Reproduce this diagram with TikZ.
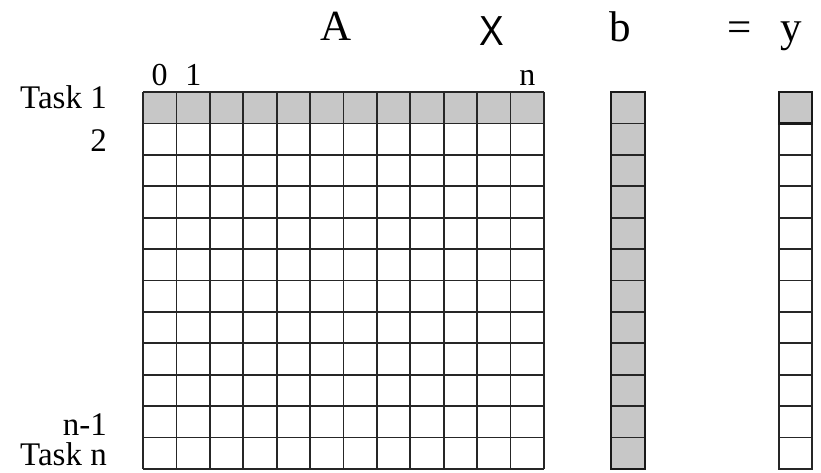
\documentclass[tikz,border=0pt]{standalone}
\usepackage{fontspec}
\setmainfont{Liberation Serif}
\newfontfamily\xsans{Liberation Sans}
\begin{document}
\begin{tikzpicture}[x=1pt,y=-1pt,
  gridline/.style={draw=black!85,line width=1.7pt},
  shaded/.style={fill=black!22},
  outer/.style={draw=black!90,line width=2.8pt},
  toplab/.style={anchor=base,inner sep=0pt,font=\fontsize{43}{47}\selectfont},
  sidelab/.style={anchor=base east,inner sep=0pt,font=\fontsize{33}{37}\selectfont},
  collab/.style={anchor=base,inner sep=0pt,font=\fontsize{32}{36}\selectfont}]
\useasboundingbox (0,0) rectangle (821,472);
\def\gx{143}\def\gX{544}\def\gy{92}\def\gY{469}
% matrix A
\coordinate (A-nw) at (\gx,\gy);
\coordinate (A-se) at (\gX,\gY);
\fill[shaded] (\gx,\gy) rectangle (\gX,{\gy+377/12});
\foreach \i in {0,...,12}{
  \draw[gridline] ({\gx+\i*401/12},\gy) -- ({\gx+\i*401/12},\gY);
  \draw[gridline] (\gx,{\gy+\i*377/12}) -- (\gX,{\gy+\i*377/12});
}
% vector b
\coordinate (b-nw) at (611,\gy);
\coordinate (b-se) at (645,\gY);
\fill[shaded] (b-nw) rectangle (b-se);
\foreach \i in {1,...,11}{
  \draw[gridline] (611,{\gy+\i*377/12}) -- (645,{\gy+\i*377/12});
}
\draw[outer] (b-nw) rectangle (b-se);
% vector y
\coordinate (y-nw) at (779,\gy);
\coordinate (y-se) at (812,\gY);
\foreach \i in {1,...,11}{
  \draw[gridline] (779,{\gy+\i*377/12}) -- (812,{\gy+\i*377/12});
}
\draw[gridline,line width=2pt] (y-nw) rectangle (y-se);
\fill[shaded] (779,\gy) rectangle (812,{\gy+377/12});
\draw[outer] (779,\gy) rectangle (812,{\gy+377/12});
% top labels
\node[toplab] (lA) at (336,40.7) {A};
\node[toplab,font=\xsans\fontsize{42}{46}\selectfont,xscale=0.88] (lX) at (491.7,45) {X};
\node[toplab] (lb) at (620,41) {b};
\node[toplab] (leq) at (740,41) {=};
\node[toplab] (ly) at (791.7,41) {y};
% column labels
\node[collab] (c0) at (159.7,85.5) {0};
\node[collab] (c1) at (193.4,85.5) {1};
\node[collab] (cn) at (527.3,85.5) {n};
% row labels
\node[sidelab] (r1) at (107,108.5) {Task 1};
\node[sidelab] (r2) at (107,151.5) {2};
\node[sidelab] (rn1) at (107,435.5) {n-1};
\node[sidelab] (rn) at (107,465.5) {Task n};
\end{tikzpicture}
\end{document}
